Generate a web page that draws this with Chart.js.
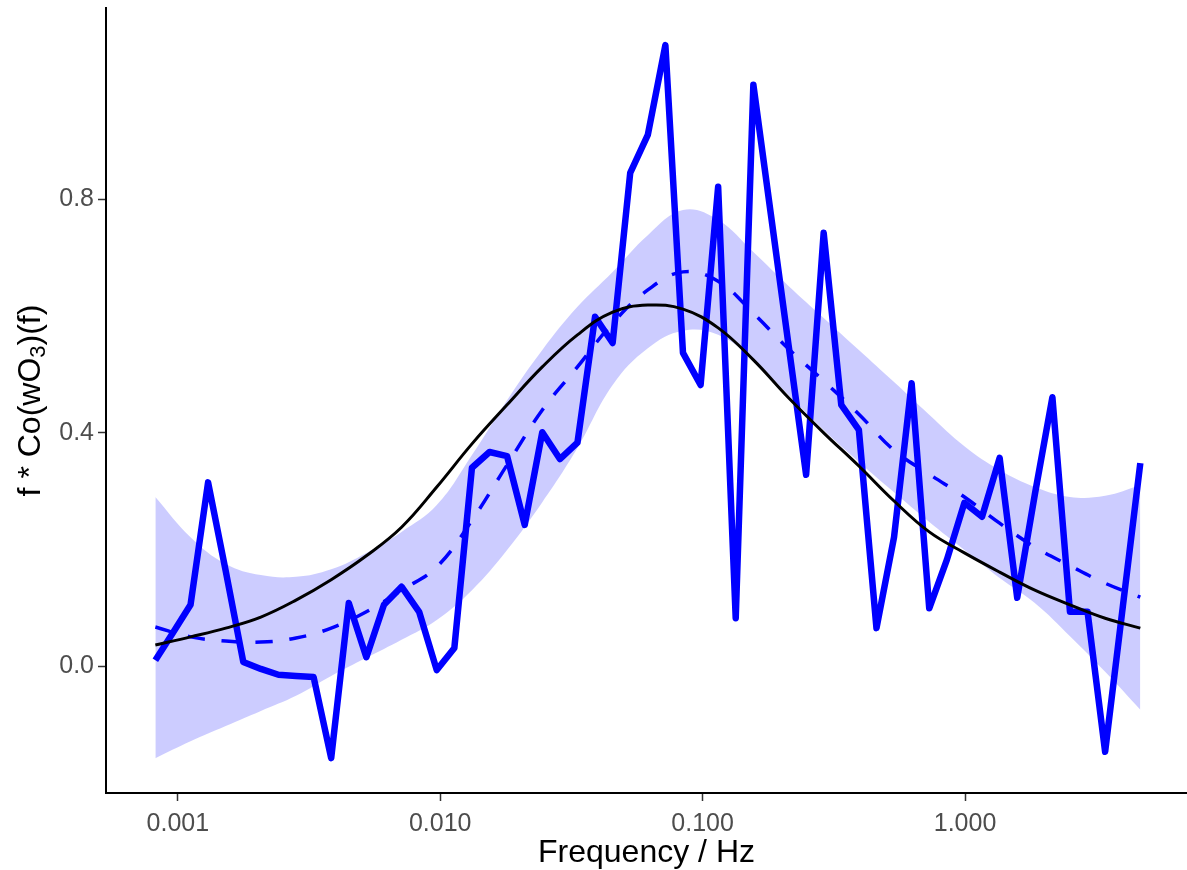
<!DOCTYPE html>
<html>
<head>
<meta charset="utf-8">
<title>f * Co(wO3)(f)</title>
<script src="https://cdn.jsdelivr.net/npm/chart.js@4.4.1/dist/chart.umd.min.js"></script>
<style>
    html, body { margin: 0; padding: 0; background: #fff; }
    #wrap { width: 1187px; height: 870px; }
</style>
</head>
<body>
<div id="wrap"><canvas id="chart" width="1187" height="870"></canvas></div>
<script>
// ========== DATA ==========
const freq = [
    0.000821, 0.000958, 0.001118, 0.001304, 0.001522, 0.001776, 0.002072, 0.002418, 0.002821, 0.003292,
    0.003841, 0.004482, 0.005230, 0.006103, 0.007121, 0.008310, 0.009700, 0.01132, 0.01321, 0.01541,
    0.01798, 0.02099, 0.02449, 0.02858, 0.03334, 0.03891, 0.04540, 0.05298, 0.06182, 0.07213,
    0.08417, 0.09824, 0.1146, 0.1337, 0.1561, 0.1821, 0.2125, 0.2480, 0.2893, 0.3376,
    0.3940, 0.4598, 0.5365, 0.6260, 0.7306, 0.8526, 0.9948, 1.161, 1.355, 1.581,
    1.845, 2.153, 2.512, 2.931, 3.420, 3.990, 4.657
];

const coSpec = [
    0.010, 0.057, 0.105, 0.315, 0.163, 0.007, -0.005, -0.015, -0.017, -0.019,
    -0.158, 0.108, 0.015, 0.105, 0.136, 0.093, -0.007, 0.031, 0.340, 0.367,
    0.360, 0.242, 0.401, 0.355, 0.383, 0.599, 0.554, 0.846, 0.911, 1.065,
    0.537, 0.482, 0.822, 0.082, 0.997, 0.774, 0.551, 0.328, 0.743, 0.448,
    0.405, 0.065, 0.221, 0.485, 0.099, 0.182, 0.280, 0.256, 0.357, 0.117,
    0.294, 0.461, 0.093, 0.093, -0.147, 0.100, 0.348
];

// smooth curves are sampled at every second frequency
const curveFreq = [
    0.000821, 0.001118, 0.001522, 0.002072, 0.002821, 0.003841, 0.005230, 0.007121, 0.009700, 0.01321,
    0.01798, 0.02449, 0.03334, 0.04540, 0.06182, 0.08417, 0.1146, 0.1561, 0.2125, 0.2893,
    0.3940, 0.5365, 0.7306, 0.9948, 1.355, 1.845, 2.512, 3.420, 4.657
];

const modelFit = [
    0.036, 0.050, 0.065, 0.084, 0.113, 0.148, 0.189, 0.238, 0.307, 0.381,
    0.448, 0.513, 0.568, 0.607, 0.619, 0.612, 0.580, 0.525, 0.460, 0.400,
    0.343, 0.283, 0.230, 0.194, 0.161, 0.130, 0.105, 0.082, 0.065
];

const smoothFit = [
    0.067, 0.050, 0.043, 0.041, 0.048, 0.065, 0.093, 0.130, 0.170, 0.250,
    0.345, 0.439, 0.513, 0.588, 0.645, 0.676, 0.660, 0.605, 0.544, 0.489,
    0.432, 0.370, 0.329, 0.290, 0.245, 0.204, 0.172, 0.142, 0.118
];

const bandUpper = [
    0.290, 0.221, 0.175, 0.156, 0.153, 0.166, 0.194, 0.230, 0.276, 0.362,
    0.456, 0.542, 0.616, 0.676, 0.739, 0.782, 0.765, 0.710, 0.652, 0.597,
    0.542, 0.487, 0.431, 0.377, 0.336, 0.307, 0.290, 0.292, 0.310
];

const bandLower = [
    -0.158, -0.129, -0.103, -0.077, -0.051, -0.017, 0.014, 0.045, 0.079, 0.130,
    0.199, 0.281, 0.374, 0.482, 0.545, 0.575, 0.568, 0.525, 0.465, 0.405,
    0.350, 0.298, 0.247, 0.199, 0.151, 0.108, 0.051, -0.010, -0.075
];

const xTicks = [0.001, 0.01, 0.1, 1];
const xTickLabels = ['0.001', '0.010', '0.100', '1.000'];
const yTicks = [0, 0.4, 0.8];
const yTickLabels = ['0.0', '0.4', '0.8'];

// ========== HELPERS ==========
const FONT = '"Liberation Sans", Arial, sans-serif';
const pts = (xs, ys) => xs.map((x, i) => ({ x, y: ys[i] }));

// y title with a real subscript
const yTitlePlugin = {
    id: 'yTitle',
    afterDraw(chart) {
        const { ctx, chartArea } = chart;
        const parts = [
            ['f * Co(wO', '32px ' + FONT, 0],
            ['3', '22px ' + FONT, 8],
            [')(f)', '32px ' + FONT, 0]
        ];
        ctx.save();
        ctx.translate(31, (chartArea.top + chartArea.bottom) / 2);
        ctx.rotate(-Math.PI / 2);
        ctx.fillStyle = '#000';
        ctx.textBaseline = 'middle';
        let total = 0;
        parts.forEach(p => { ctx.font = p[1]; total += ctx.measureText(p[0]).width; });
        let x = -total / 2;
        parts.forEach(p => {
            ctx.font = p[1];
            ctx.fillText(p[0], x, p[2]);
            x += ctx.measureText(p[0]).width;
        });
        ctx.restore();
    }
};

// ========== CHART ==========
new Chart(document.getElementById('chart'), {
    type: 'line',
    data: {
        datasets: [
            {
                label: 'band upper',
                data: pts(curveFreq, bandUpper),
                borderWidth: 0,
                pointRadius: 0,
                backgroundColor: 'rgba(0, 0, 255, 0.2)',
                fill: '+1',
                tension: 0.4,
                order: 5
            },
            {
                label: 'band lower',
                data: pts(curveFreq, bandLower),
                borderWidth: 0,
                pointRadius: 0,
                fill: false,
                tension: 0.4,
                order: 4
            },
            {
                label: 'co-spectrum',
                data: pts(freq, coSpec),
                borderColor: '#0000FF',
                borderWidth: 6.5,
                borderJoinStyle: 'round',
                borderCapStyle: 'butt',
                pointRadius: 0,
                tension: 0,
                fill: false,
                order: 3
            },
            {
                label: 'smooth',
                data: pts(curveFreq, smoothFit),
                borderColor: '#0000FF',
                borderWidth: 3.5,
                borderDash: [17, 17],
                pointRadius: 0,
                tension: 0.4,
                fill: false,
                order: 2
            },
            {
                label: 'model',
                data: pts(curveFreq, modelFit),
                borderColor: '#000000',
                borderWidth: 3,
                pointRadius: 0,
                tension: 0.4,
                fill: false,
                order: 1
            }
        ]
    },
    options: {
        responsive: false,
        animation: false,
        events: [],
        layout: { padding: { top: 8, right: 0, bottom: 0, left: 0 } },
        plugins: {
            legend: { display: false },
            tooltip: { enabled: false }
        },
        scales: {
            x: {
                type: 'logarithmic',
                min: 0.0005324,
                max: 7.015,
                afterBuildTicks: s => { s.ticks = xTicks.map(v => ({ value: v })); },
                afterFit: s => { s.height = 77; s.paddingLeft = 0; s.paddingRight = 0; },
                ticks: {
                    callback: (v, i) => xTickLabels[i],
                    color: '#4D4D4D',
                    font: { size: 25, family: FONT },
                    padding: 8,
                    maxRotation: 0,
                    autoSkip: false
                },
                grid: { drawOnChartArea: false, drawTicks: true, tickLength: 8, tickColor: '#333333', tickWidth: 1.5 },
                border: { display: true, color: '#000000', width: 2 },
                title: {
                    display: true,
                    text: 'Frequency / Hz',
                    color: '#000000',
                    font: { size: 32, family: FONT, lineHeight: 1 },
                    padding: { top: 0, bottom: 1 }
                }
            },
            y: {
                min: -0.2178,
                max: 1.1286,
                afterBuildTicks: s => { s.ticks = yTicks.map(v => ({ value: v })); },
                afterFit: s => { s.width = 106; s.paddingTop = 0; s.paddingBottom = 0; },
                ticks: {
                    callback: (v, i) => yTickLabels[i],
                    color: '#4D4D4D',
                    font: { size: 25, family: FONT },
                    padding: 4
                },
                grid: { drawOnChartArea: false, drawTicks: true, tickLength: 8, tickColor: '#333333', tickWidth: 1.5 },
                border: { display: true, color: '#000000', width: 2 }
            }
        }
    },
    plugins: [yTitlePlugin]
});
</script>
</body>
</html>
